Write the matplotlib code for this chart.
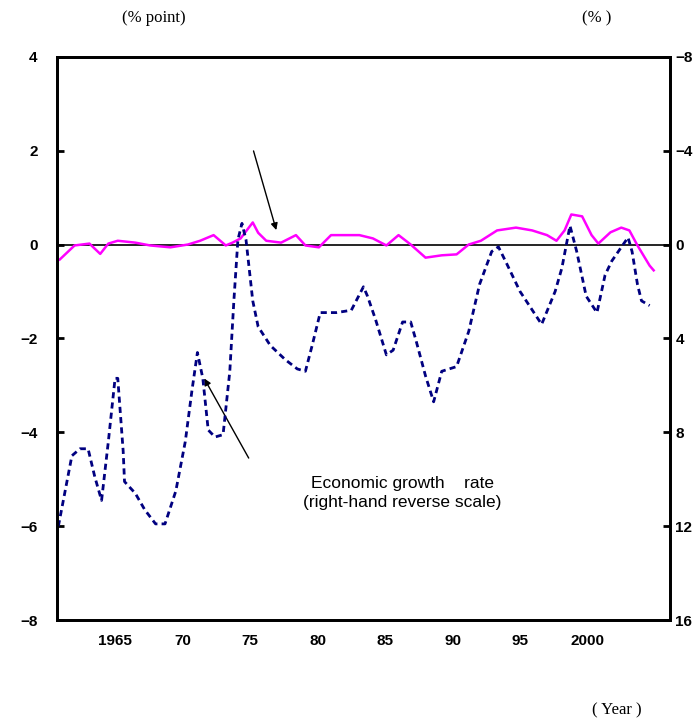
import matplotlib.pyplot as plt

# Economic growth rate (%), plotted on right-hand reverse scale
growth_years = [1960.8, 1961.3, 1961.8, 1962.4, 1963.0, 1963.5, 1964.0, 1964.5, 1965.0, 1965.2,
                1965.6, 1965.7, 1966.5, 1967.2, 1968.0, 1968.7, 1969.5, 1970.2, 1970.7, 1971.1,
                1971.5, 1971.9, 1972.4, 1973.0, 1973.5, 1973.8, 1974.1, 1974.4, 1974.7, 1975.2,
                1975.6, 1976.5, 1977.6, 1978.5, 1979.1, 1979.6, 1980.2, 1981.4, 1982.5, 1983.4,
                1983.7, 1984.3, 1985.1, 1985.6, 1986.3, 1986.9, 1987.3, 1988.0, 1988.6, 1989.2,
                1990.3, 1991.2, 1992.0, 1992.9, 1993.4, 1994.0, 1995.0, 1996.6, 1997.6, 1998.1,
                1998.7, 1999.2, 1999.9, 2000.7, 2001.3, 2001.8, 2003.0, 2003.3, 2003.7, 2004.0,
                2004.6]
growth = [12.0, 10.5, 9.0, 8.7, 8.7, 9.9, 10.9, 8.4, 5.7, 5.7,
          8.8, 10.1, 10.6, 11.3, 11.9, 11.9, 10.5, 8.4, 6.2, 4.6,
          5.7, 7.9, 8.2, 8.1, 5.4, 2.4, -0.2, -0.9, -0.2, 2.4,
          3.5, 4.3, 4.9, 5.3, 5.4, 4.3, 2.9, 2.9, 2.8, 1.8,
          2.2, 3.2, 4.7, 4.5, 3.3, 3.3, 4.1, 5.6, 6.7, 5.4,
          5.2, 3.7, 1.7, 0.3, 0.1, 0.8, 2.0, 3.4, 2.0, 1.0,
          -0.8, 0.3, 2.2, 2.9, 1.3, 0.7, -0.3, 0.3, 1.7, 2.4,
          2.6]

# pink series (% point), left scale
pt_years = [1960.9, 1962.0, 1963.1, 1963.9, 1964.5, 1965.2, 1966.5, 1967.6, 1969.1, 1970.4,
            1971.3, 1972.3, 1973.2, 1973.7, 1974.3, 1975.2, 1975.6, 1976.2, 1977.3, 1978.4,
            1979.1, 1980.1, 1981.0, 1982.1, 1983.1, 1984.1, 1985.1, 1986.0, 1986.9, 1988.0,
            1989.2, 1990.3, 1991.2, 1992.1, 1993.3, 1994.7, 1995.9, 1997.0, 1997.7, 1998.3,
            1998.8, 1999.6, 2000.3, 2000.8, 2001.7, 2002.5, 2003.1, 2003.7, 2004.6, 2004.9]
pt_vals = [-0.32, -0.02, 0.02, -0.2, 0.02, 0.08, 0.04, -0.02, -0.06, 0.0,
           0.08, 0.2, -0.02, 0.04, 0.13, 0.47, 0.25, 0.08, 0.04, 0.2,
           -0.02, -0.06, 0.2, 0.2, 0.2, 0.13, -0.02, 0.2, 0.0, -0.28,
           -0.23, -0.21, 0.0, 0.08, 0.3, 0.36, 0.3, 0.2, 0.08, 0.3,
           0.64, 0.6, 0.2, 0.02, 0.26, 0.36, 0.3, -0.02, -0.45, -0.55]

xticks = [1965, 1970, 1975, 1980, 1985, 1990, 1995, 2000]
xticklabels = ['1965', '70', '75', '80', '85', '90', '95', '2000']

fig = plt.figure(figsize=(6.98, 7.27), dpi=100)
ax = fig.add_axes([0.0817, 0.147, 0.878, 0.775])
ax2 = ax.twinx()

ax.axhline(0, color='black', lw=1.2)
ax.plot(pt_years, pt_vals, color='#ff00ff', lw=1.8)
ax2.plot(growth_years, growth, color='#000080', lw=2.0, ls=(0, (2.2, 1.5)))

ax.set_xlim(1960.7, 2006.1)
ax.set_ylim(-8, 4)
ax2.set_ylim(16, -8)
ax.set_yticks(range(-8, 5, 2))
ax2.set_yticks(range(-8, 17, 4))
ax.set_yticklabels([str(v).replace('-', '\u2212') for v in range(-8, 5, 2)])
ax2.set_yticklabels([str(v).replace('-', '\u2212') for v in range(-8, 17, 4)])
ax.set_xticks(xticks)
ax.set_xticklabels(xticklabels)
for a in (ax, ax2):
    for s in a.spines.values():
        s.set_linewidth(2)
    a.tick_params(direction='in', width=2, length=5, labelsize=11)
    for lab in a.get_xticklabels() + a.get_yticklabels():
        lab.set_fontweight('bold')
        lab.set_family('Liberation Sans')
ax.tick_params(axis='x', length=0, pad=10)
ax.tick_params(axis='y', pad=14)
ax2.tick_params(axis='y', pad=4)

fig.text(0.22, 0.975, '(% point)', ha='center', va='center', family='Liberation Serif', fontsize=12)
fig.text(0.855, 0.975, '(% )', ha='center', va='center', family='Liberation Serif', fontsize=12)
fig.text(0.884, 0.023, '( Year )', ha='center', va='center', family='Liberation Serif', fontsize=12)

ax.annotate('', xy=(1977.0, 0.25), xytext=(1975.2, 2.05),
            arrowprops=dict(arrowstyle='-|>', color='black', lw=1))
ax.annotate('', xy=(1971.5, -2.8), xytext=(1975.0, -4.6),
            arrowprops=dict(arrowstyle='-|>', color='black', lw=1))
ax.text(1986.3, -5.3, 'Economic growth    rate\n(right-hand reverse scale)',
        ha='center', va='center', fontsize=12.5, family='Liberation Sans', linespacing=1.35)

fig.savefig('out.png')
